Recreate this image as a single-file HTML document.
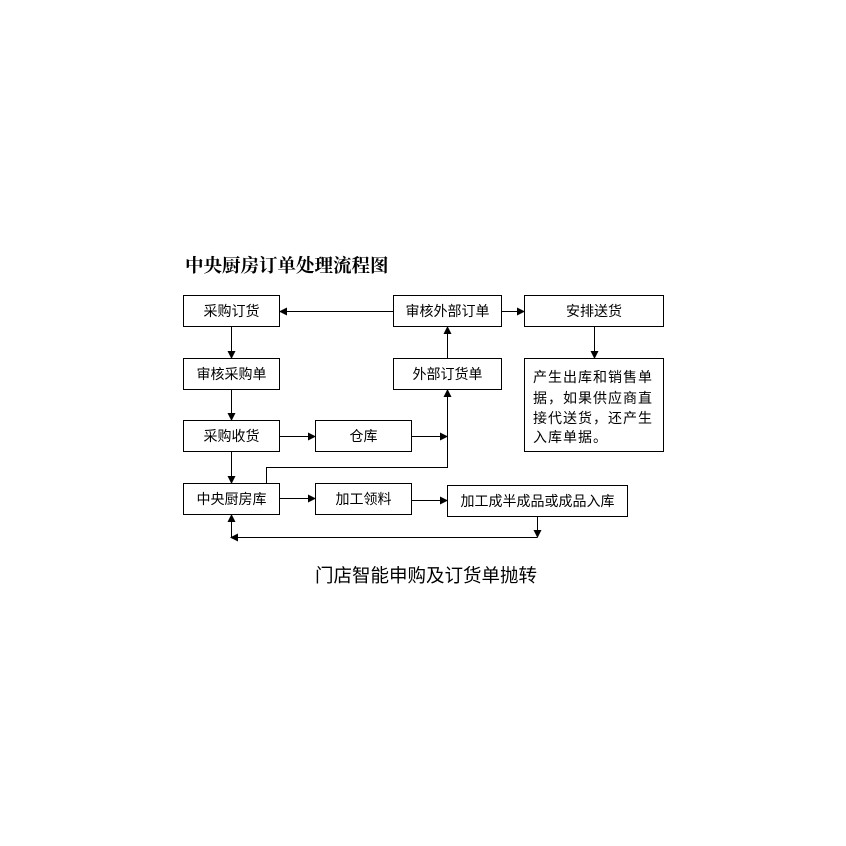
<!DOCTYPE html>
<html><head><meta charset="utf-8"><style>
html,body{margin:0;padding:0;background:#fff;}
svg{display:block;}
text{font-family:"Liberation Sans","Noto Sans CJK SC",sans-serif;font-size:14px;fill:#000;}
</style></head><body>
<svg width="846" height="846" viewBox="0 0 846 846" xmlns="http://www.w3.org/2000/svg">
<defs>
<marker id="a" markerWidth="8" markerHeight="8" refX="7" refY="4" orient="auto" markerUnits="userSpaceOnUse">
<path d="M0,0 L8,4 L0,8 z" fill="#000"/></marker>
</defs>
<text x="185" y="272" style="font-family:'Noto Serif CJK SC',serif;font-weight:bold;font-size:18.5px">中央厨房订单处理流程图</text>
<g fill="none" stroke="#000" stroke-width="1">
<rect x="183.5" y="295.5" width="96" height="31"/>
<rect x="393.5" y="295.5" width="108" height="31"/>
<rect x="524.5" y="295.5" width="139" height="31"/>
<rect x="183.5" y="358.5" width="96" height="31"/>
<rect x="393.5" y="358.5" width="108" height="31"/>
<rect x="524.5" y="358.5" width="139" height="93"/>
<rect x="183.5" y="420.5" width="96" height="31"/>
<rect x="315.5" y="420.5" width="96" height="31"/>
<rect x="183.5" y="483.5" width="96" height="31"/>
<rect x="315.5" y="483.5" width="96" height="31"/>
<rect x="447.5" y="485.5" width="180" height="31"/>
</g>
<g stroke="#000" stroke-width="1" fill="none">
<line x1="393" y1="311.5" x2="280" y2="311.5" marker-end="url(#a)"/>
<line x1="502" y1="311.5" x2="524" y2="311.5" marker-end="url(#a)"/>
<line x1="231.5" y1="327" x2="231.5" y2="358" marker-end="url(#a)"/>
<line x1="231.5" y1="390" x2="231.5" y2="420" marker-end="url(#a)"/>
<line x1="231.5" y1="452" x2="231.5" y2="483" marker-end="url(#a)"/>
<line x1="447.5" y1="358" x2="447.5" y2="327" marker-end="url(#a)"/>
<line x1="594.5" y1="327" x2="594.5" y2="358" marker-end="url(#a)"/>
<line x1="280" y1="436.5" x2="315" y2="436.5" marker-end="url(#a)"/>
<line x1="412" y1="436.5" x2="447" y2="436.5" marker-end="url(#a)"/>
<polyline points="266.5,483 266.5,467.5 447.5,467.5 447.5,390" marker-end="url(#a)"/>
<line x1="280" y1="498.5" x2="315" y2="498.5" marker-end="url(#a)"/>
<line x1="412" y1="500.5" x2="447" y2="500.5" marker-end="url(#a)"/>
<line x1="537.5" y1="517" x2="537.5" y2="537" marker-end="url(#a)"/>
<line x1="537.5" y1="537.5" x2="231" y2="537.5" marker-end="url(#a)"/>
<line x1="231.5" y1="537" x2="231.5" y2="515" marker-end="url(#a)"/>
</g>
<g text-anchor="middle">
<text x="231.5" y="316">采购订货</text>
<text x="447.5" y="316">审核外部订单</text>
<text x="594" y="316">安排送货</text>
<text x="231.5" y="379">审核采购单</text>
<text x="447.5" y="379">外部订货单</text>
<text x="231.5" y="441">采购收货</text>
<text x="363.5" y="441">仓库</text>
<text x="231.5" y="504">中央厨房库</text>
<text x="363.5" y="504">加工领料</text>
<text x="537.5" y="506">加工成半成品或成品入库</text>
</g>
<g style="letter-spacing:1px">
<text x="533" y="382">产生出库和销售单</text>
<text x="533" y="403">据，如果供应商直</text>
<text x="533" y="423">接代送货，还产生</text>
<text x="533" y="442">入库单据。</text>
</g>
<text x="426" y="582" text-anchor="middle" style="font-size:18.5px">门店智能申购及订货单抛转</text>
</svg>
</body></html>
